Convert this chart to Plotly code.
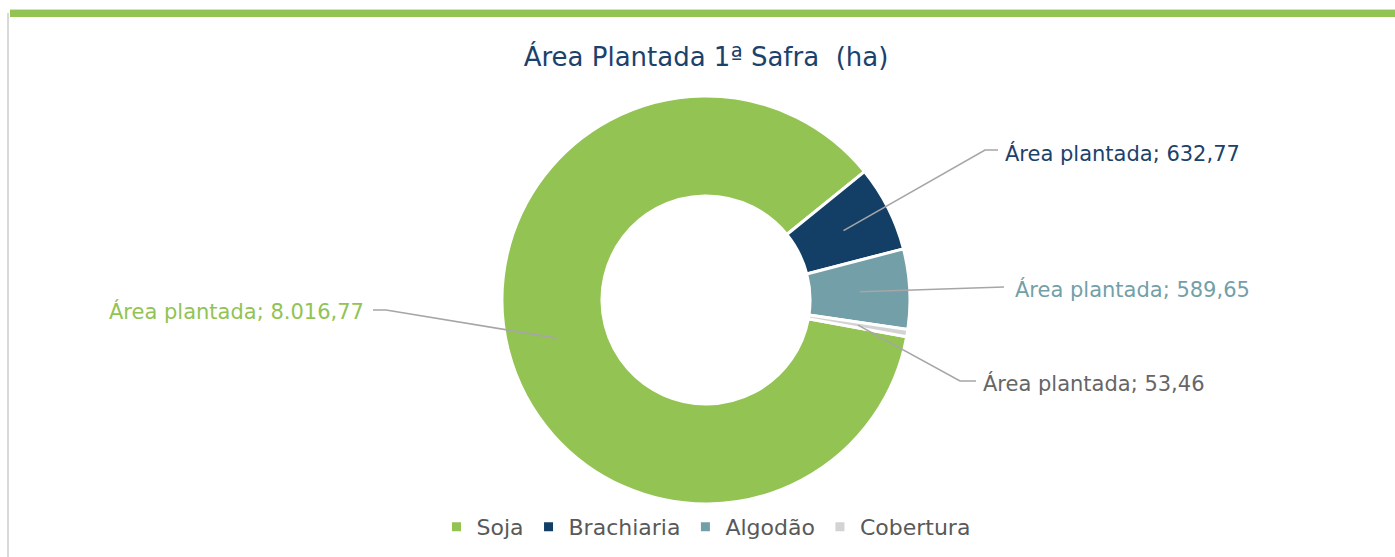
import math
import plotly.graph_objects as go

# ---- data ----
categories = ["Soja", "Brachiaria", "Algodão", "Cobertura"]
values = [8016.77, 632.77, 589.65, 53.46]
colors = ["#92c353", "#133f66", "#739fa8", "#d3d3d3"]
label_colors = ["#92c353", "#1b426b", "#739fa8", "#666666"]
title_text = "Área Plantada 1ª Safra  (ha)"
label_prefix = "Área plantada; "

# ---- layout constants (pixels) ----
W, H = 1395, 557
CX, CY, R = 706, 300, 204
HOLE = 0.51
ROT = 100.4
FONT = "DejaVu Sans"

# label anchor (text position), horizontal elbow segment
label_pos = {
    "Soja": dict(x=366, y=311, anchor="right", elbow=(373, 386, 310)),
    "Brachiaria": dict(x=1003, y=153, anchor="left", elbow=(998, 985, 150)),
    "Algodão": dict(x=1013, y=289, anchor="left", elbow=(1004, 1004, 287)),
    "Cobertura": dict(x=981, y=383, anchor="left", elbow=(976, 960, 381)),
}


def br(v):
    s = f"{v:,.2f}"
    return s.replace(",", "X").replace(".", ",").replace("X", ".")


fig = go.Figure()
fig.add_trace(go.Pie(
    labels=categories, values=values, hole=HOLE, sort=False,
    direction="clockwise", rotation=ROT,
    marker=dict(colors=colors, line=dict(color="white", width=3)),
    textinfo="none", hoverinfo="label+value",
    domain=dict(x=[(CX - R) / W, (CX + R) / W], y=[(H - CY - R) / H, (H - CY + R) / H]),
))
# hidden cartesian axes in pixel units for leader lines
fig.add_trace(go.Scatter(x=[0, W], y=[0, H], mode="markers", marker=dict(opacity=0),
                         showlegend=False, hoverinfo="skip"))

total = sum(values)
cum = 0.0
rmid = R * (1 + HOLE) / 2
shapes = []
annotations = []
for cat, v, lc in zip(categories, values, label_colors):
    mid = ROT + (cum + v / 2) / total * 360
    cum += v
    a = math.radians(mid)
    px = CX + rmid * math.sin(a)
    py = CY - rmid * math.cos(a)
    lp = label_pos[cat]
    ex0, ex1, ey = lp["elbow"]
    shapes.append(dict(type="path", xref="x", yref="y",
                       path=f"M{px:.1f},{py:.1f} L{ex1},{ey} L{ex0},{ey}",
                       line=dict(color="#a6a6a6", width=1.6)))
    annotations.append(dict(x=lp["x"], y=lp["y"], xref="x", yref="y",
                            text=label_prefix + br(v), showarrow=False,
                            xanchor=lp["anchor"], yanchor="middle",
                            font=dict(family=FONT, size=21, color=lc)))

# decorative frame
shapes.append(dict(type="rect", xref="x", yref="y", x0=10, x1=W, y0=10, y1=17,
                   fillcolor="#92c353", line=dict(width=0), layer="above"))
shapes.append(dict(type="line", xref="x", yref="y", x0=10, x1=W, y0=9.5, y1=9.5,
                   line=dict(color="#d9d9d9", width=1)))
shapes.append(dict(type="line", xref="x", yref="y", x0=8, x1=8, y0=13, y1=H,
                   line=dict(color="#d9d9d9", width=2)))

fig.update_layout(
    width=W, height=H, margin=dict(l=0, r=0, t=0, b=0),
    paper_bgcolor="white", plot_bgcolor="white",
    title=dict(text=title_text, x=CX / W, xanchor="center", y=1 - 57 / H, yanchor="middle",
               font=dict(family=FONT, size=26, color="#1b426b")),
    xaxis=dict(range=[0, W], visible=False, fixedrange=True),
    yaxis=dict(range=[H, 0], visible=False, fixedrange=True),
    shapes=shapes, annotations=annotations,
    showlegend=True,
    legend=dict(orientation="h", x=CX / W, xanchor="center", y=1 - 527 / H, yanchor="middle",
                font=dict(family=FONT, size=22, color="#595959"), itemwidth=30,
                traceorder="normal"),
)

fig.write_html("out.html", config={"displayModeBar": False},
               post_script="document.body.style.margin='0';document.body.style.overflow='hidden';")
